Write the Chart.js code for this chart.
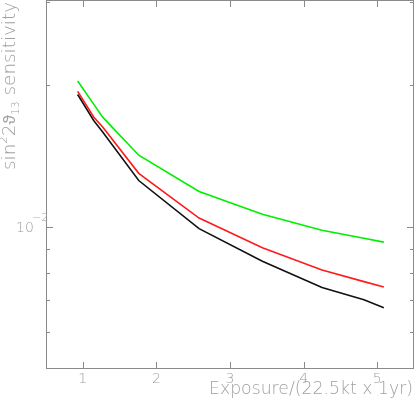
<!DOCTYPE html>
<html>
<head>
<meta charset="utf-8">
<script src="https://cdn.jsdelivr.net/npm/chart.js@4/dist/chart.umd.min.js"></script>
<style>
  html, body { margin: 0; padding: 0; background: #fff; }
  canvas { display: block; }
</style>
</head>
<body>
<canvas id="sens" width="415" height="399"></canvas>
<script>
// exposure in units of 22.5kt x 1yr
var exposure   = [0.93, 1.15, 1.27, 1.76, 2.58, 3.44, 4.25, 4.82, 5.09]

// sin^2 2theta13 sensitivity curves
var greenCurve = [0.0204, 0.0182, 0.0171, 0.0142, 0.0119, 0.01064, 0.00984, 0.00947, 0.00929]
var redCurve   = [0.0194, 0.0171, 0.0163, 0.0130, 0.01045, 0.00904, 0.00811, 0.00766, 0.00746]
var blackCurve = [0.0191, 0.0168, 0.0159, 0.01255, 0.00992, 0.00846, 0.00744, 0.00701, 0.00674]

var xTicks      = [1, 2, 3, 4, 5]
var yMajorTicks = [0.01]
var yMinorTicks = [0.006, 0.007, 0.008, 0.009, 0.02, 0.03]

var
    axisColor = '#8a8a8a'
  , textColor = '#a0a0a0'
  , textFont  = '"DejaVu Sans", sans-serif'

// y title pieces: text, size, baseline shift, weight
var yTitleParts = [
    ['sin', 17, 0, 200]
  , ['2', 11, -8, 200]
  , ['2', 17, 0, 200]
  , ['\u03d1', 16, 0, 300]
  , ['13', 10, 4, 200]
  , [' sensitivity', 17, 0, 200]
]

var toPoints = function (xs, ys) {
  var pts = []
  for (var i = 0; i < xs.length; i++) pts.push({ x: xs[i], y: ys[i] })
  return pts
}

var lineSet = function (values, color) {
  return {
      data        : toPoints(exposure, values)
    , borderColor : color
    , borderWidth : 1.6
    , pointRadius : 0
    , tension     : 0
    , fill        : false
  }
}

// frame, inward ticks and all text of the old PAW style plot
var framePlugin = {
  id: 'frame',
  afterDraw: function (chart) {
    var
        ctx  = chart.ctx
      , area = chart.chartArea
      , xs   = chart.scales.x
      , ys   = chart.scales.y

    ctx.save()
    ctx.strokeStyle = axisColor
    ctx.lineWidth = 1
    ctx.strokeRect(area.left + 0.5, area.top + 0.5, area.right - area.left - 1, area.bottom - area.top - 1)

    ctx.beginPath()
    xTicks.forEach(function (v) {
      var px = Math.round(xs.getPixelForValue(v)) + 0.5
      ctx.moveTo(px, area.bottom); ctx.lineTo(px, area.bottom - 7)
      ctx.moveTo(px, area.top);    ctx.lineTo(px, area.top + 7)
    })
    yMajorTicks.forEach(function (v) {
      var py = Math.round(ys.getPixelForValue(v)) + 0.5
      ctx.moveTo(area.left, py);  ctx.lineTo(area.left + 7, py)
      ctx.moveTo(area.right, py); ctx.lineTo(area.right - 7, py)
    })
    yMinorTicks.forEach(function (v) {
      var py = Math.round(ys.getPixelForValue(v)) + 0.5
      ctx.moveTo(area.left, py);  ctx.lineTo(area.left + 4, py)
      ctx.moveTo(area.right, py); ctx.lineTo(area.right - 4, py)
    })
    ctx.stroke()

    ctx.fillStyle = textColor
    ctx.textBaseline = 'alphabetic'

    // x tick labels
    ctx.font = '200 14px ' + textFont
    ctx.textAlign = 'center'
    xTicks.forEach(function (v) {
      ctx.fillText(String(v), xs.getPixelForValue(v), area.bottom + 14)
    })

    // y tick label 10^-2
    var py = ys.getPixelForValue(0.01)
    ctx.textAlign = 'left'
    ctx.font = '200 14px ' + textFont
    ctx.fillText('10', 16, py + 5)
    ctx.font = '200 11px ' + textFont
    ctx.fillText('\u22122', 32, py - 6)

    // x axis title, right aligned
    ctx.font = '200 17px ' + textFont
    var xt = 'Exposure/(22.5kt x 1yr)'
    var w = ctx.measureText(xt).width
    ctx.save()
    ctx.translate(413, 394)
    ctx.scale(204 / w, 1)
    ctx.textAlign = 'right'
    ctx.fillText(xt, 0, 0)
    ctx.restore()

    // y axis title, rotated, built piece by piece
    var total = 0
    yTitleParts.forEach(function (p) {
      ctx.font = p[3] + ' ' + p[1] + 'px ' + textFont
      total += ctx.measureText(p[0]).width
    })
    ctx.save()
    ctx.translate(15, 170)
    ctx.rotate(-Math.PI / 2)
    ctx.scale(168 / total, 1)
    ctx.textAlign = 'left'
    var cx = 0
    yTitleParts.forEach(function (p) {
      ctx.font = p[3] + ' ' + p[1] + 'px ' + textFont
      ctx.fillText(p[0], cx, p[2])
      cx += ctx.measureText(p[0]).width
    })
    ctx.restore()

    ctx.restore()
  }
}

new Chart(document.getElementById('sens').getContext('2d'), {
    type    : 'line'
  , data    : {
      datasets: [
          lineSet(greenCurve, '#00ee00')
        , lineSet(redCurve,   '#ff1a1a')
        , lineSet(blackCurve, '#111111')
      ]
    }
  , options : {
        responsive : false
      , animation  : false
      , layout     : { padding: { left: 46, right: 1, top: 0, bottom: 30 } }
      , plugins    : { legend: { display: false }, tooltip: { enabled: false } }
      , scales     : {
          x: { type: 'linear', min: 0.5, max: 5.5, display: false }
        , y: { type: 'logarithmic', min: 0.005, max: 0.0303, display: false }
      }
    }
  , plugins : [framePlugin]
})
</script>
</body>
</html>
